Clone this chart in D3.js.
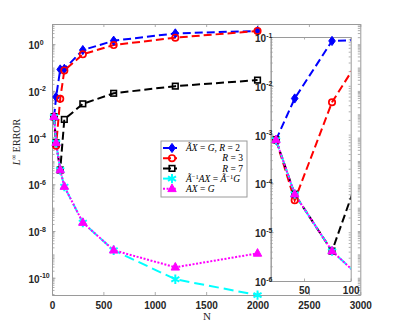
<!DOCTYPE html>
<html>
<head>
<meta charset="utf-8">
<script src="https://cdn.jsdelivr.net/npm/d3@7"></script>
<style>
body { margin: 0; background: #fff; }
</style>
</head>
<body>
<svg id="chart" width="399" height="332"></svg>
<script>
// sample sizes and errors
const N = [20, 40, 80, 120, 300, 600, 1200, 2000];
const errR2 = [7.8e-4, 5.5e-3, 0.083, 0.088, 0.56, 1.41, 2.9, 3.7];
const errR3 = [7.8e-4, 4.5e-5, 4.6e-3, 0.075, 0.37, 0.92, 1.9, 3.7];
const errR7 = [7.8e-4, 6e-5, 4.1e-6, 6e-4, 2.8e-3, 7.9e-3, 0.016, 0.029];
const errPrec = [7.8e-4, 6e-5, 4.1e-6, 8e-7, 2.3e-8, 1.5e-9, 8.6e-11, 1.8e-11];
const errPlain = [7.8e-4, 6e-5, 4.1e-6, 8e-7, 2.3e-8, 1.5e-9, 2.8e-10, 1.1e-9];

const xTicks = [0, 500, 1000, 1500, 2000, 2500, 3000];
const yTickExps = [0, -2, -4, -6, -8, -10];
const insetXTicks = [50, 100];
const insetYTickExps = [-1, -2, -3, -4, -5, -6];

const series = [
    {values: errR2, color: "#0000ff", dash: "8,4", marker: "diamond"},
    {values: errR3, color: "#ff0000", dash: "8,4", marker: "circle"},
    {values: errR7, color: "#000000", dash: "8,4", marker: "square"},
    {values: errPrec, color: "#00ffff", dash: "10,5", marker: "asterisk"},
    {values: errPlain, color: "#ff00ff", dash: "2,1.6", marker: "triangle"}
];

const svg = d3.select("#chart");
const axisColor = "#9a9a9a";
const labelColor = "#262626";
const sansFont = "'Liberation Sans', Arial, sans-serif";
const serifFont = "'Liberation Serif', 'Times New Roman', serif";

function drawMarker(g, type, color, cx, cy) {
    const m = g.append("g").attr("transform", "translate(" + cx + "," + cy + ")");
    if (type === "diamond") {
        m.append("path").attr("d", "M0,-4.6L3.3,0L0,4.6L-3.3,0Z")
            .attr("fill", color).attr("stroke", color).attr("stroke-width", 1);
    } else if (type === "circle") {
        m.append("circle").attr("r", 3.2)
            .attr("fill", "none").attr("stroke", color).attr("stroke-width", 1.7);
    } else if (type === "square") {
        m.append("rect").attr("x", -2.8).attr("y", -2.8).attr("width", 5.6).attr("height", 5.6)
            .attr("fill", "none").attr("stroke", color).attr("stroke-width", 1.6);
    } else if (type === "asterisk") {
        m.append("path").attr("d", d3.symbol(d3.symbolAsterisk, 60)())
            .attr("fill", "none").attr("stroke", color).attr("stroke-width", 2);
    } else if (type === "triangle") {
        m.append("path").attr("d", "M0,-4.8L4.2,2.8L-4.2,2.8Z")
            .attr("fill", color).attr("stroke", color).attr("stroke-width", 1);
    }
}

function logMinor(lo, hi, dom) {
    const out = [];
    for (let k = lo; k <= hi; k++) {
        for (let m = 1; m < 10; m++) {
            const v = m * Math.pow(10, k);
            if (v >= dom[0] * 0.9999 && v <= dom[1] * 1.0001) out.push(v);
        }
    }
    return out;
}

function styleAxis(g) {
    g.selectAll("path.domain").attr("stroke", axisColor).attr("stroke-width", 1);
    g.selectAll(".tick line").attr("stroke", axisColor).attr("stroke-width", 0.8);
    g.selectAll(".tick text").attr("fill", labelColor).attr("font-family", sansFont)
        .attr("font-size", 10).attr("font-weight", "bold");
}

function expLabels(g, exps, xStart) {
    g.selectAll(".tick text").each(function(d, i) {
        const t = d3.select(this);
        const e = Math.round(Math.log10(d));
        t.text(null).attr("text-anchor", "start").attr("x", xStart).attr("dy", "0.45em");
        t.append("tspan").text("10");
        t.append("tspan").attr("dy", -4.5).attr("font-size", 7).text(String(e));
    });
}

// ---------- main axes ----------
const main = {left: 52, right: 360.3, top: 24, bottom: 295};
const x = d3.scaleLinear().domain([0, 3000]).range([main.left, main.right]);
const y = d3.scaleLog().domain([Math.pow(10, -10.74), Math.pow(10, 0.865)]).range([main.bottom, main.top]);

svg.append("defs").append("clipPath").attr("id", "clipMain")
    .append("rect").attr("x", main.left).attr("y", main.top)
    .attr("width", main.right - main.left).attr("height", main.bottom - main.top);

// minor / unlabelled ticks
const yMinor = logMinor(-11, 0, y.domain());
svg.append("g").attr("transform", "translate(" + main.left + ",0)")
    .call(d3.axisLeft(y).tickValues(yMinor).tickFormat("").tickSize(-2.5).tickSizeOuter(0)).call(styleAxis);
svg.append("g").attr("transform", "translate(" + main.right + ",0)")
    .call(d3.axisRight(y).tickValues(yMinor).tickFormat("").tickSize(-2.5).tickSizeOuter(0)).call(styleAxis);
svg.append("g").attr("transform", "translate(0," + main.top + ")")
    .call(d3.axisTop(x).tickValues(xTicks).tickFormat("").tickSize(-3).tickSizeOuter(0)).call(styleAxis);

const xAxis = svg.append("g").attr("transform", "translate(0," + main.bottom + ")")
    .call(d3.axisBottom(x).tickValues(xTicks).tickFormat(d3.format("d")).tickSize(-3).tickSizeOuter(0).tickPadding(6.5))
    .call(styleAxis);

const yAxis = svg.append("g").attr("transform", "translate(" + main.left + ",0)")
    .call(d3.axisLeft(y).tickValues(yTickExps.map(e => Math.pow(10, e))).tickSize(-3.5).tickSizeOuter(0))
    .call(styleAxis);
expLabels(yAxis, yTickExps, 28.5 - main.left);

// data
const lineMain = d3.line().x((d, i) => x(N[i])).y(d => y(d));
const gMain = svg.append("g");
series.forEach(s => {
    gMain.append("path").datum(s.values)
        .attr("clip-path", "url(#clipMain)")
        .attr("d", lineMain)
        .attr("fill", "none").attr("stroke", s.color).attr("stroke-width", 2)
        .attr("stroke-dasharray", s.dash);
});
series.forEach(s => {
    s.values.forEach((v, i) => drawMarker(gMain, s.marker, s.color, x(N[i]), y(v)));
});

// axis titles
svg.append("text").attr("x", 207).attr("y", 320).attr("text-anchor", "middle")
    .attr("font-family", serifFont).attr("font-size", 11).attr("fill", labelColor).text("N");

const yl = svg.append("text").attr("transform", "translate(20,142) rotate(-90)")
    .attr("text-anchor", "middle").attr("font-family", serifFont).attr("font-size", 10).attr("fill", labelColor);
yl.append("tspan").attr("font-style", "italic").text("L");
yl.append("tspan").attr("dy", -4).attr("font-size", 7).text("∞");
yl.append("tspan").attr("dy", 4).text(" ERROR");

// ---------- legend ----------
const legend = svg.append("g");
legend.append("rect").attr("x", 161).attr("y", 141).attr("width", 86).attr("height", 56)
    .attr("fill", "#fff").attr("stroke", axisColor).attr("stroke-width", 1);

const legendRows = [
    {parts: [["Ã", "i"], ["X", "i"], [" = ", "r"], ["G", "i"], [", ", "r"], ["R", "i"], [" = ", "r"], ["2", "r"]], align: "start"},
    {parts: [["R", "i"], [" = ", "r"], ["3", "r"]], align: "end"},
    {parts: [["R", "i"], [" = ", "r"], ["7", "r"]], align: "end"},
    {parts: [["Ã", "i"], ["−1", "s"], ["AX", "i"], [" = ", "r"], ["Ã", "i"], ["−1", "s"], ["G", "i"]], align: "start"},
    {parts: [["AX", "i"], [" = ", "r"], ["G", "i"]], align: "start"}
];
const rowY = [148, 158.2, 168.4, 178.6, 188.8];

legendRows.forEach((row, k) => {
    const s = series[k];
    const cy = rowY[k];
    legend.append("line").attr("x1", 163).attr("x2", 177).attr("y1", cy).attr("y2", cy)
        .attr("stroke", s.color).attr("stroke-width", 2).attr("stroke-dasharray", s.dash);
    drawMarker(legend, s.marker, s.color, 172, cy);
    const t = legend.append("text")
        .attr("x", row.align === "start" ? 186 : 243).attr("y", cy + 3.2)
        .attr("text-anchor", row.align).attr("font-family", serifFont).attr("font-size", 9.5).attr("fill", "#000");
    let shift = 0;
    row.parts.forEach(p => {
        const ts = t.append("tspan").text(p[0]);
        if (p[1] === "i") ts.attr("font-style", "italic");
        if (p[1] === "s") {
            ts.attr("font-size", 6.5).attr("dy", -3 - shift);
            shift = -3;
        } else if (shift !== 0) {
            ts.attr("dy", -shift);
            shift = 0;
        }
    });
});

// ---------- inset ----------
const inset = {left: 270.7, right: 350.7, top: 37, bottom: 281};
const xi = d3.scaleLinear().domain([14.3, 100]).range([inset.left, inset.right]);
const yi = d3.scaleLog().domain([1e-6, 1e-1]).range([inset.bottom, inset.top]);

svg.append("rect").attr("x", inset.left).attr("y", inset.top)
    .attr("width", inset.right - inset.left).attr("height", inset.bottom - inset.top).attr("fill", "#fff");

svg.select("defs").append("clipPath").attr("id", "clipInset")
    .append("rect").attr("x", inset.left).attr("y", inset.top)
    .attr("width", inset.right - inset.left).attr("height", inset.bottom - inset.top);

const yiMinor = logMinor(-6, -1, yi.domain());
svg.append("g").attr("transform", "translate(" + inset.left + ",0)")
    .call(d3.axisLeft(yi).tickValues(yiMinor).tickFormat("").tickSize(-2).tickSizeOuter(0)).call(styleAxis);
svg.append("g").attr("transform", "translate(" + inset.right + ",0)")
    .call(d3.axisRight(yi).tickValues(yiMinor).tickFormat("").tickSize(-2).tickSizeOuter(0)).call(styleAxis);
svg.append("g").attr("transform", "translate(0," + inset.top + ")")
    .call(d3.axisTop(xi).tickValues(insetXTicks).tickFormat("").tickSize(-2.5).tickSizeOuter(0)).call(styleAxis);
svg.append("g").attr("transform", "translate(0," + inset.bottom + ")")
    .call(d3.axisBottom(xi).tickValues(insetXTicks).tickFormat(d3.format("d")).tickSize(-2.5).tickSizeOuter(0).tickPadding(5.5))
    .call(styleAxis);
const yiAxis = svg.append("g").attr("transform", "translate(" + inset.left + ",0)")
    .call(d3.axisLeft(yi).tickValues(insetYTickExps.map(e => Math.pow(10, e))).tickSize(-3).tickSizeOuter(0))
    .call(styleAxis);
expLabels(yiAxis, insetYTickExps, 255 - inset.left);

const lineInset = d3.line().x((d, i) => xi(N[i])).y(d => yi(d));
const gInset = svg.append("g");
series.forEach(s => {
    gInset.append("path").datum(s.values)
        .attr("clip-path", "url(#clipInset)")
        .attr("d", lineInset)
        .attr("fill", "none").attr("stroke", s.color).attr("stroke-width", 2)
        .attr("stroke-dasharray", s.dash);
});
series.forEach(s => {
    s.values.forEach((v, i) => {
        if (N[i] >= xi.domain()[0] && N[i] <= xi.domain()[1] && v >= 1e-6 && v <= 1e-1) {
            drawMarker(gInset, s.marker, s.color, xi(N[i]), yi(v));
        }
    });
});
</script>
</body>
</html>
